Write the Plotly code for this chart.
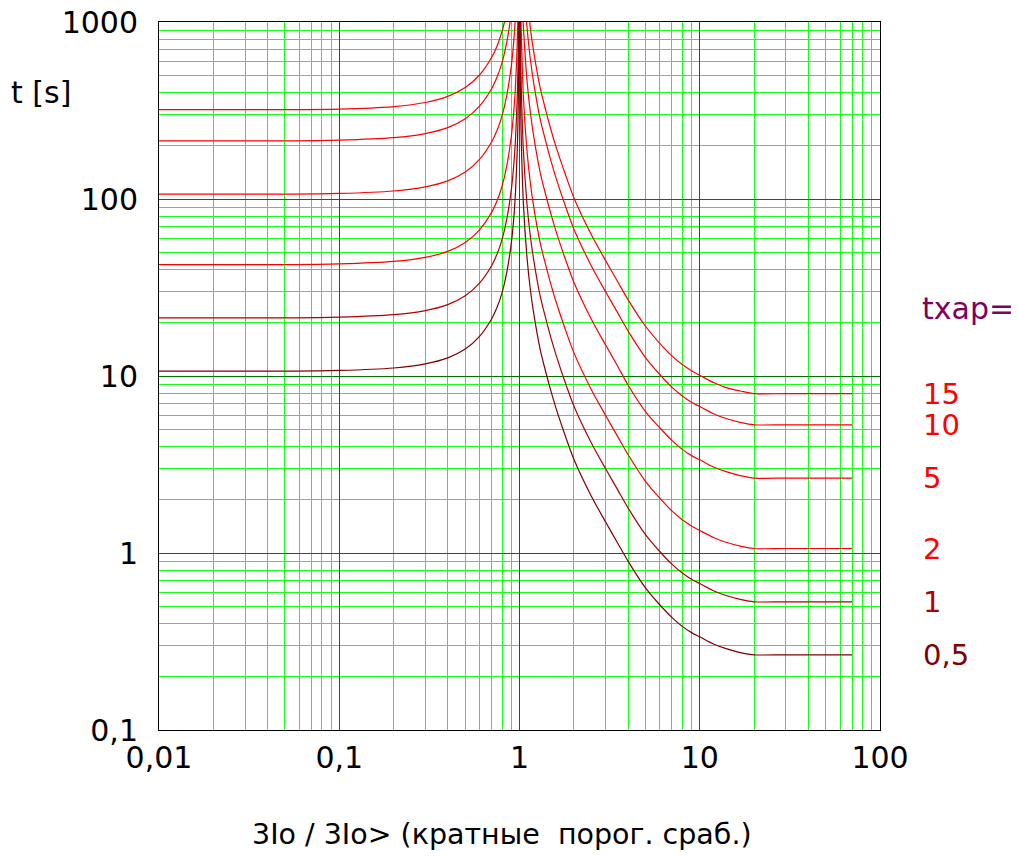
import math

import plotly.graph_objects as go

# --- data (x = 3Io/3Io>, t in seconds) ---
CURVE_NAMES = ["15", "10", "5", "2", "1", "0,5"]
CURVE_COLORS = ["#ff0000", "#ff0000", "#ff0000", "#ff0000", "#b00000", "#800000"]
LABEL_COLORS = ["#ff0000", "#ff0000", "#ff0000", "#ff0000", "#b00000", "#800000"]
PLATEAU = [7.95, 5.3, 2.65, 1.06, 0.53, 0.266]

X_15_L = [0.01, 0.05, 0.1, 0.2, 0.3, 0.4, 0.5, 0.6, 0.7, 0.75, 0.8, 0.825]
T_15_L = [320, 320, 322, 333, 351, 380, 426, 502, 630, 730, 885, 1000]
X_15_R = [1.14, 1.15, 1.2, 1.3, 1.4, 1.5, 1.6, 1.8, 2, 2.5, 3, 3.5, 4, 5, 6, 7, 8, 9, 10, 12, 14, 17, 20, 30, 70]
T_15_R = [1000, 915, 675, 428, 315, 243, 195, 137, 102, 63, 45, 34.2, 27, 19.1, 15.3, 13.0, 11.6, 10.7, 10.1, 9.15, 8.6, 8.2, 7.95, 7.95, 7.95]

X_10_L = [0.01, 0.05, 0.1, 0.2, 0.3, 0.4, 0.5, 0.6, 0.7, 0.75, 0.8, 0.85, 0.887]
T_10_L = [213, 213, 215, 222, 234, 253, 284, 335, 420, 487, 590, 770, 1000]
X_10_R = [1.095, 1.1, 1.15, 1.2, 1.3, 1.4, 1.5, 1.6, 1.8, 2, 2.5, 3, 3.5, 4, 5, 6, 7, 8, 9, 10, 12, 14, 17, 20, 30, 70]
T_10_R = [1000, 940, 610, 450, 285, 210, 162, 130, 91, 68, 42, 30, 22.8, 18, 12.7, 10.2, 8.65, 7.7, 7.1, 6.72, 6.1, 5.75, 5.45, 5.3, 5.3, 5.3]

X_5_L = [0.01, 0.05, 0.1, 0.2, 0.3, 0.4, 0.5, 0.6, 0.7, 0.75, 0.8, 0.85, 0.9, 0.93, 0.945]
T_5_L = [106.5, 106.5, 107.5, 111, 117, 126.5, 142, 167.5, 210, 243.5, 295, 385, 560, 785, 1000]
X_5_R = [1.048, 1.05, 1.1, 1.15, 1.2, 1.3, 1.4, 1.5, 1.6, 1.8, 2, 2.5, 3, 3.5, 4, 5, 6, 7, 8, 9, 10, 12, 14, 17, 20, 30, 70]
T_5_R = [1000, 960, 470, 305, 225, 142.5, 105, 81, 65, 45.5, 34, 21, 15, 11.4, 8.9, 6.3, 5.1, 4.33, 3.85, 3.55, 3.36, 3.05, 2.88, 2.73, 2.65, 2.65, 2.65]

X_2_L = [0.01, 0.05, 0.1, 0.2, 0.3, 0.4, 0.5, 0.6, 0.7, 0.75, 0.8, 0.85, 0.9, 0.93, 0.95, 0.97, 0.9785]
T_2_L = [42.6, 42.6, 43, 44.4, 46.8, 50.6, 56.8, 67, 84, 97.4, 118, 154, 224, 314, 436, 720, 1000]
X_2_R = [1.02, 1.05, 1.1, 1.15, 1.2, 1.3, 1.4, 1.5, 1.6, 1.8, 2, 2.5, 3, 3.5, 4, 5, 6, 7, 8, 9, 10, 12, 14, 17, 20, 30, 70]
T_2_R = [1000, 384, 188, 122, 90, 57, 42, 32.4, 26, 18.2, 13.6, 8.4, 6.0, 4.56, 3.6, 2.54, 2.04, 1.73, 1.54, 1.42, 1.34, 1.22, 1.15, 1.09, 1.06, 1.06, 1.06]

X_1_L = [0.01, 0.05, 0.1, 0.2, 0.3, 0.4, 0.5, 0.6, 0.7, 0.75, 0.8, 0.85, 0.9, 0.93, 0.95, 0.97, 0.98, 0.99]
T_1_L = [21.3, 21.3, 21.5, 22.2, 23.4, 25.3, 28.4, 33.5, 42, 48.7, 59, 77, 112, 157, 218, 360, 538, 1000]
X_1_R = [1.01, 1.02, 1.05, 1.1, 1.15, 1.2, 1.3, 1.4, 1.5, 1.6, 1.8, 2, 2.5, 3, 3.5, 4, 5, 6, 7, 8, 9, 10, 12, 14, 17, 20, 30, 70]
T_1_R = [1000, 490, 192, 94, 61, 45, 28.5, 21, 16.2, 13.0, 9.1, 6.8, 4.2, 3.0, 2.28, 1.8, 1.27, 1.02, 0.865, 0.77, 0.71, 0.672, 0.61, 0.575, 0.545, 0.53, 0.53, 0.53]

X_05_L = [0.01, 0.05, 0.1, 0.2, 0.3, 0.4, 0.5, 0.6, 0.7, 0.75, 0.8, 0.85, 0.9, 0.93, 0.95, 0.97, 0.98, 0.99, 0.995]
T_05_L = [10.65, 10.65, 10.75, 11.1, 11.7, 12.65, 14.2, 16.75, 21, 24.35, 29.5, 38.5, 56, 78.5, 109, 180, 269, 535, 1000]
X_05_R = [1.005, 1.01, 1.02, 1.05, 1.1, 1.15, 1.2, 1.3, 1.4, 1.5, 1.6, 1.8, 2, 2.5, 3, 3.5, 4, 5, 6, 7, 8, 9, 10, 12, 14, 17, 20, 30, 70]
T_05_R = [1000, 490, 245, 96, 47, 30.5, 22.5, 14.25, 10.5, 8.1, 6.5, 4.55, 3.4, 2.1, 1.5, 1.14, 0.9, 0.635, 0.51, 0.433, 0.385, 0.355, 0.336, 0.305, 0.288, 0.273, 0.266, 0.266, 0.266]

CURVES = [
    (X_15_L, T_15_L, X_15_R, T_15_R),
    (X_10_L, T_10_L, X_10_R, T_10_R),
    (X_5_L, T_5_L, X_5_R, T_5_R),
    (X_2_L, T_2_L, X_2_R, T_2_R),
    (X_1_L, T_1_L, X_1_R, T_1_R),
    (X_05_L, T_05_L, X_05_R, T_05_R),
]

X_DECADES = [0.01, 0.1, 1, 10, 100]
X_DECADE_TEXT = ["0,01", "0,1", "1", "10", "100"]
Y_DECADES = [0.1, 1, 10, 100, 1000]
Y_DECADE_TEXT = ["0,1", "1", "10", "100", "1000"]
GRID_DIGITS = [1, 2, 3, 4, 5, 6, 7, 8, 9]

FONT = "DejaVu Sans"
MINOR_GRID = "#19ff19"
MAJOR_GRID = "#007400"


def all_gridlines(decades, labels):
    vals, texts = [], []
    for d, lab in zip(decades[:-1], labels[:-1]):
        for m in GRID_DIGITS:
            vals.append(d * m)
            texts.append(lab if m == 1 else "")
    vals.append(decades[-1])
    texts.append(labels[-1])
    return vals, texts


fig = go.Figure()
for (xl, tl, xr, tr), name, color in zip(CURVES, CURVE_NAMES, CURVE_COLORS):
    for xs, ts in ((xl, tl), (xr, tr)):
        fig.add_trace(go.Scatter(
            x=xs, y=ts, mode="lines", name=name,
            line=dict(color=color, width=1.2, shape="spline", smoothing=0.8),
            showlegend=False, hoverinfo="x+y",
        ))

# invisible trace so the overlay axes (decade grid) get drawn
fig.add_trace(go.Scatter(x=[1], y=[1], xaxis="x2", yaxis="y2", mode="markers",
                         marker=dict(opacity=0), showlegend=False, hoverinfo="skip"))

x_vals, x_text = all_gridlines(X_DECADES, X_DECADE_TEXT)
y_vals, y_text = all_gridlines(Y_DECADES, Y_DECADE_TEXT)

base_axis = dict(
    type="log", automargin=False, showgrid=True, gridcolor=MINOR_GRID, gridwidth=1,
    showline=True, linecolor="black", linewidth=1, mirror=True, ticks="",
    zeroline=False, ticklabeloverflow="allow",
    tickfont=dict(family=FONT, size=30, color="black"),
)
over_axis = dict(
    type="log", automargin=False, showgrid=True, gridcolor=MAJOR_GRID, gridwidth=1,
    showline=False, ticks="", zeroline=False, showticklabels=False,
)

fig.update_layout(
    xaxis=dict(range=[-2, 2], tickmode="array", tickvals=x_vals, ticktext=x_text,
               ticklabelstandoff=1, **base_axis),
    yaxis=dict(range=[-1, 3], tickmode="array", tickvals=y_vals, ticktext=y_text,
               ticklabelstandoff=14, **base_axis),
    xaxis2=dict(range=[-2, 2], overlaying="x", tickmode="array", tickvals=X_DECADES,
                **over_axis),
    yaxis2=dict(range=[-1, 3], overlaying="y", tickmode="array", tickvals=Y_DECADES,
                **over_axis),
)

annotations = [
    dict(text="t [s]", x=-0.208, y=0.9, xref="paper", yref="paper",
         xanchor="left", yanchor="middle", showarrow=False,
         font=dict(family=FONT, size=30, color="black")),
    dict(text="3Io / 3Io> (кратные  порог. сраб.)", x=0.476, y=-0.148,
         xref="paper", yref="paper", xanchor="center", yanchor="middle",
         showarrow=False, font=dict(family=FONT, size=28.5, color="black")),
    dict(text="txap=", x=1.056, y=1.384, xref="paper", yref="y",
         xanchor="left", yanchor="middle", showarrow=False,
         font=dict(family=FONT, size=30, color="#800060")),
]
for name, color, level in zip(CURVE_NAMES, LABEL_COLORS, PLATEAU):
    annotations.append(dict(
        text=name, x=1.057, y=math.log10(level), xref="paper", yref="y",
        xanchor="left", yanchor="middle", showarrow=False,
        font=dict(family=FONT, size=29, color=color)))

# page body adds an 8px margin, so the figure is 8px smaller each way
fig.update_layout(
    width=1011,
    height=848,
    margin=dict(l=151, r=139, t=14, b=126),
    paper_bgcolor="white",
    plot_bgcolor="white",
    annotations=annotations,
)

fig.write_html("out.html")
